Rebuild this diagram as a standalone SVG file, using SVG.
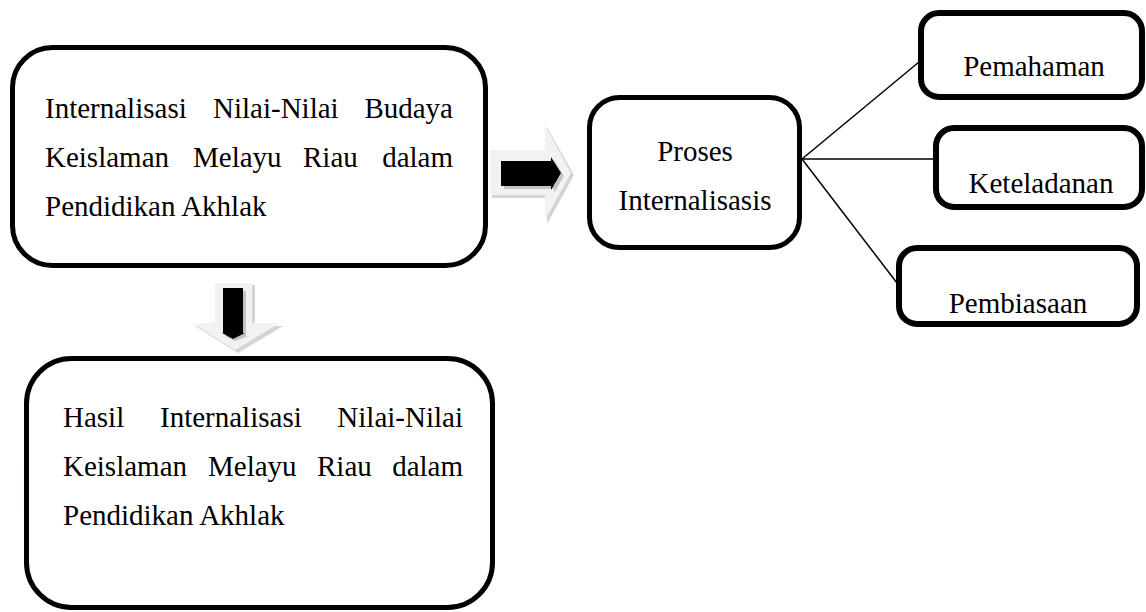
<svg xmlns="http://www.w3.org/2000/svg" width="1146" height="612" viewBox="0 0 1146 612">
<style>
.box{fill:#fff;stroke:#000;stroke-width:5}
.sbox{fill:#fff;stroke:#000;stroke-width:6}
text{font-family:"Liberation Serif","Times New Roman",serif;font-size:29px;fill:#000}
.c{text-anchor:middle}
.e{text-anchor:end}
.con{stroke:#000;stroke-width:1.5;fill:none}
.light{fill:#f2f2f2}
.edge{fill:#d4d4d4}
.shadow{fill:#c4c4c4}
</style>
<rect width="1146" height="612" fill="#fff"/>
<g id="connectors">
<line class="con" x1="802" y1="159" x2="919" y2="62"/>
<line class="con" x1="802" y1="159" x2="934" y2="159"/>
<line class="con" x1="802" y1="159" x2="897" y2="283"/>
</g>
<g id="arrow-right">
<polygon class="edge" points="492,153 547,153 547,127 574,175 547,224 547,198 492,198"/>
<polygon class="light" points="490,150 545,150 545,125 571,173 545,220 545,195 490,195"/>
<polygon class="shadow" points="504,164 554,164 554,160 564,176 554,193 554,189 504,189"/>
<polygon fill="#000" points="501,161 551,161 551,157 561,173 551,190 551,186 501,186"/>
</g>
<g id="arrow-down">
<polygon class="edge" points="218,285 255,285 255,326 283,326 238,353 195,326 218,326"/>
<polygon class="light" points="215,283 252,283 252,323 280,323 235,350 192,323 215,323"/>
<polygon class="shadow" points="226,291 246,291 246,336 248,336 235,341 225,336 226,336"/>
<polygon fill="#000" points="223,288 243,288 243,333 245,333 233,339 222,333 223,333"/>
</g>
<g id="node-top">
<rect class="box" x="12.5" y="47.5" width="473" height="218" rx="40"/>
<text x="45" y="118">Internalisasi</text>
<text x="213" y="118">Nilai-Nilai</text>
<text class="e" x="453" y="118">Budaya</text>
<text x="45" y="167">Keislaman</text>
<text x="193" y="167">Melayu</text>
<text x="303" y="167">Riau</text>
<text class="e" x="453" y="167">dalam</text>
<text x="45" y="216">Pendidikan Akhlak</text>
</g>
<g id="node-bottom">
<rect class="box" x="26.5" y="358.5" width="466" height="249" rx="45"/>
<text x="63" y="427">Hasil</text>
<text x="160" y="427">Internalisasi</text>
<text class="e" x="463" y="427">Nilai-Nilai</text>
<text x="63" y="476">Keislaman</text>
<text x="208" y="476">Melayu</text>
<text x="317" y="476">Riau</text>
<text class="e" x="463" y="476">dalam</text>
<text x="63" y="525">Pendidikan Akhlak</text>
</g>
<g id="node-proses">
<rect class="box" x="589.5" y="97.5" width="210" height="150" rx="30"/>
<text class="c" x="695" y="161">Proses</text>
<text class="c" x="695" y="210">Internalisasis</text>
</g>
<g id="node-pemahaman">
<rect class="sbox" x="921" y="13" width="221" height="84" rx="18"/>
<text class="c" x="1034" y="76">Pemahaman</text>
</g>
<g id="node-keteladanan">
<rect class="sbox" x="936" y="128" width="206" height="79" rx="18"/>
<text class="c" x="1041" y="193">Keteladanan</text>
</g>
<g id="node-pembiasaan">
<rect class="sbox" x="899" y="248" width="238" height="76" rx="18"/>
<text class="c" x="1018" y="313">Pembiasaan</text>
</g>
</svg>
